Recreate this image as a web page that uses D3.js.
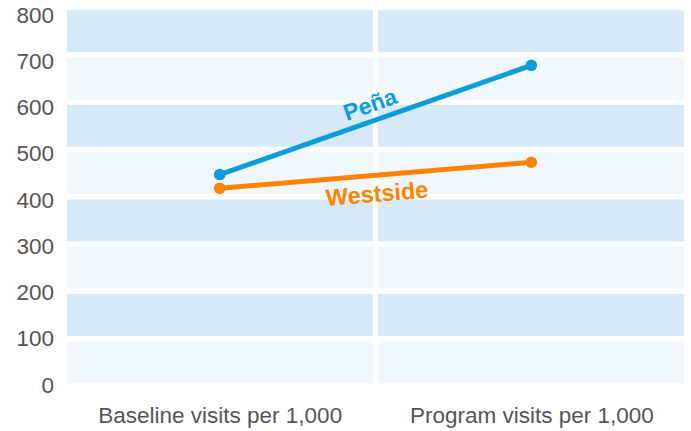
<!DOCTYPE html>
<html>
<head>
<meta charset="utf-8">
<script src="https://cdn.jsdelivr.net/npm/d3@7"></script>
<style>
  html, body { margin: 0; padding: 0; background: #ffffff; }
  svg { display: block; font-family: "Liberation Sans", Arial, sans-serif; }
</style>
</head>
<body>
<svg id="chart" width="691" height="431"></svg>
<script>
// Visits per 1,000, before and during the program
const categories = ["Baseline visits per 1,000", "Program visits per 1,000"];
const penaValues = [447, 678];
const westsideValues = [418, 473];
const yTicks = [0, 100, 200, 300, 400, 500, 600, 700, 800];

const series = [
  { name: "Peña", values: penaValues, color: "#0b9ddb" },
  { name: "Westside", values: westsideValues, color: "#ff8300" }
];

const left = 67, right = 684;
const svg = d3.select("#chart");

const x = d3.scalePoint().domain(categories).range([left, right]).padding(0.49);
const y = d3.scaleLinear().domain([0, 800]).range([386, 7.6]);
// Tick labels sit on a slightly tighter spacing than the bands
const yLabel = d3.scaleLinear().domain([0, 800]).range([385, 15]);

// Alternating horizontal bands, split in two halves by a white gap
const gap = 2.7;
const mid = (x(categories[0]) + x(categories[1])) / 2;
const halves = [[left, mid - gap], [mid + gap, right]];
const bandData = [];
d3.range(0, 800, 100).forEach((v, i) => {
  halves.forEach(h => bandData.push({ v, i, x0: h[0], x1: h[1] }));
});
svg.append("g")
  .selectAll("rect")
  .data(bandData)
  .join("rect")
  .attr("x", d => d.x0)
  .attr("width", d => d.x1 - d.x0)
  .attr("y", d => y(d.v + 100) + gap)
  .attr("height", d => y(d.v) - y(d.v + 100) - 2 * gap)
  .attr("fill", d => (d.i % 2 === 0 ? "#f0f8fe" : "#d6e9f7"));

// Value axis
const yAxis = d3.axisLeft(yLabel).tickValues(yTicks).tickSize(0).tickPadding(0);
svg.append("g")
  .attr("transform", "translate(54,0)")
  .call(yAxis)
  .call(g => g.select(".domain").remove())
  .call(g => g.selectAll("text")
    .attr("fill", "#555555")
    .attr("font-size", "22.5px")
    .attr("font-family", "Liberation Sans, Arial, sans-serif"));

// Category axis
const xAxis = d3.axisBottom(x).tickSize(0).tickPadding(0);
svg.append("g")
  .attr("transform", "translate(0,407)")
  .call(xAxis)
  .call(g => g.select(".domain").remove())
  .call(g => g.selectAll("text")
    .attr("fill", "#555555")
    .attr("font-size", "22.5px")
    .attr("font-family", "Liberation Sans, Arial, sans-serif")
    .attr("dy", "0")
    .attr("y", 16));

// Lines with end markers
const line = d3.line().x((d, i) => x(categories[i])).y(d => y(d));
series.forEach(s => {
  svg.append("path")
    .datum(s.values)
    .attr("d", line)
    .attr("fill", "none")
    .attr("stroke", s.color)
    .attr("stroke-width", 5);
  svg.append("g")
    .selectAll("circle")
    .data(s.values)
    .join("circle")
    .attr("cx", (d, i) => x(categories[i]))
    .attr("cy", d => y(d))
    .attr("r", 5.8)
    .attr("fill", s.color);
});

// Series labels set along each line
function angleOf(vals) {
  const dx = x(categories[1]) - x(categories[0]);
  const dy = y(vals[1]) - y(vals[0]);
  return Math.atan2(dy, dx) * 180 / Math.PI;
}
const labelSpecs = [
  { s: series[0], t: 0.5, off: -16.5, size: 23 },
  { s: series[1], t: 0.5, off: 18.5, size: 23.5 }
];
labelSpecs.forEach(({ s, t, off, size }) => {
  const px = x(categories[0]) + t * (x(categories[1]) - x(categories[0]));
  const py = y(s.values[0]) + t * (y(s.values[1]) - y(s.values[0]));
  const a = angleOf(s.values);
  svg.append("text")
    .attr("transform", `translate(${px},${py}) rotate(${a}) translate(0,${off})`)
    .attr("text-anchor", "middle")
    .attr("dominant-baseline", "central")
    .attr("font-size", size + "px")
    .attr("font-weight", "bold")
    .attr("fill", s.color)
    .text(s.name);
});
</script>
</body>
</html>
